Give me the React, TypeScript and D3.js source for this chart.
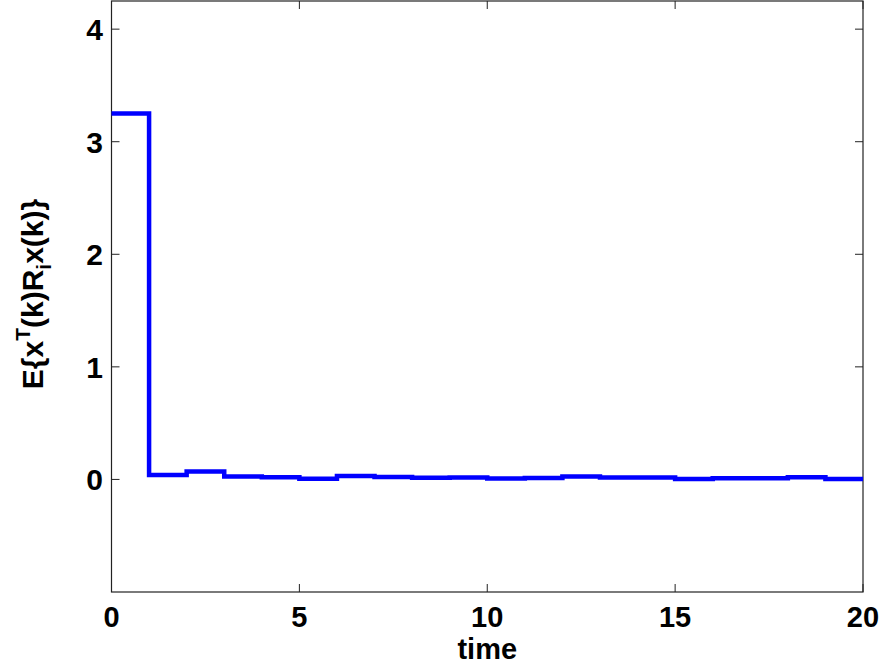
import React from "react";
import * as d3 from "d3";

const timeSteps = [0,1,2,3,4,5,6,7,8,9,10,11,12,13,14,15,16,17,18,19,20];
const values = [3.25,0.04,0.07,0.027,0.02,0.006,0.03,0.022,0.016,0.018,0.009,0.012,0.027,0.018,0.018,0.004,0.01,0.01,0.02,0.004,0.004];
const xTicks = [0,5,10,15,20];
const yTicks = [0,1,2,3,4];

export default function App() {
  const W = 880, H = 665;
  const left = 111.5, right = 863, top = 1, bottom = 592;
  const x = d3.scaleLinear().domain([0, 20]).range([left, right]);
  const y = d3.scaleLinear().domain([-1, 4.25]).range([bottom, top]);
  const pts: [number, number][] = timeSteps.map((t, i) => [t, values[i]]);
  const line = d3.line<[number, number]>().x(d => x(d[0])).y(d => y(d[1])).curve(d3.curveStepAfter);
  const font = "'Liberation Sans', Arial, sans-serif";
  const tl = 8;
  return (
    <svg width={W} height={H} style={{ position: "absolute", left: 0, top: 0 }}>
      <rect x={0} y={0} width={W} height={H} fill="#fff" />
      <rect x={left} y={top} width={right - left} height={bottom - top} fill="none" stroke="#222" strokeWidth={1.2} />
      {xTicks.map(t => (
        <g key={"x" + t}>
          <line x1={x(t)} x2={x(t)} y1={bottom} y2={bottom - tl} stroke="#222" />
          <line x1={x(t)} x2={x(t)} y1={top} y2={top + tl} stroke="#222" />
          <text x={x(t)} y={627} textAnchor="middle" fontFamily={font} fontWeight="bold" fontSize={29}>{t}</text>
        </g>
      ))}
      {yTicks.map(t => (
        <g key={"y" + t}>
          <line x1={left} x2={left + tl} y1={y(t)} y2={y(t)} stroke="#222" />
          <line x1={right} x2={right - tl} y1={y(t)} y2={y(t)} stroke="#222" />
          <text x={103} y={y(t) + 11} textAnchor="end" fontFamily={font} fontWeight="bold" fontSize={30}>{t}</text>
        </g>
      ))}
      <path d={line(pts) || ""} fill="none" stroke="#0000ff" strokeWidth={4.5} />
      <text x={(left + right) / 2} y={659} textAnchor="middle" fontFamily={font} fontWeight="bold" fontSize={29}>time</text>
      <text transform="translate(43,294) rotate(-90)" textAnchor="middle" fontFamily={font} fontWeight="bold" fontSize={30}>
        <tspan>E{"{"}x</tspan>
        <tspan dy={-13} fontSize={21}>T</tspan>
        <tspan dy={13}>(k)R</tspan>
        <tspan dy={8} fontSize={21}>i</tspan>
        <tspan dy={-8}>x(k){"}"}</tspan>
      </text>
    </svg>
  );
}
